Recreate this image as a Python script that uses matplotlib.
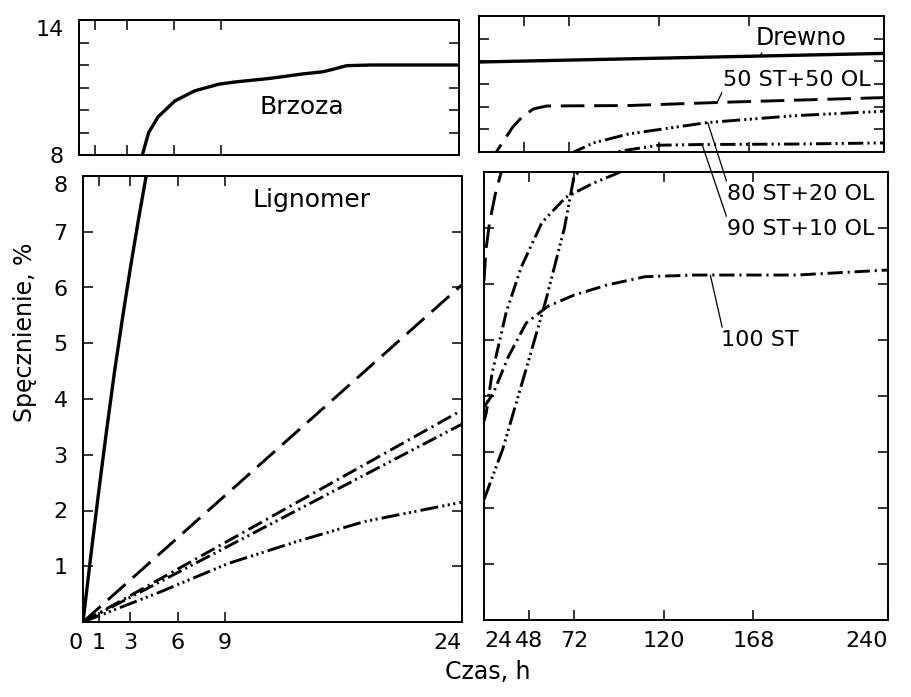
import matplotlib
matplotlib.use("Agg")
import matplotlib.pyplot as plt

# --- data (hours, swelling %) ---
# left panels, 0-24 h
brzoza_h = [0, 0.5, 1.0, 1.5, 2.0, 2.5, 3.0, 3.5, 4.0, 4.4, 5.0, 6.05, 7.3, 8.85, 9.9,
            12.0, 14.1, 15.4, 16.0, 16.9, 18.4, 24]
brzoza_v = [0, 1.2, 2.35, 3.45, 4.5, 5.45, 6.35, 7.2, 8.0, 9.0, 9.7, 10.4, 10.85, 11.15,
            11.25, 11.4, 11.6, 11.7, 11.8, 11.97, 12.0, 12.0]
lig_h = [0, 24]
lig_5050 = [0, 6.05]
lig_100st = [0, 3.8]
lig_9010 = [0, 3.55]
lig_8020_h = [0, 4.9, 9.2, 13.5, 17.8, 24]
lig_8020 = [0, 0.54, 1.05, 1.44, 1.80, 2.15]

# right panels, 24-240 h
drewno_h = [24, 240]
drewno_v = [11.97, 12.35]
mix5050_h = [24, 25, 27, 30, 34, 38, 42, 47, 53, 60, 104, 157, 240]
mix5050_v = [6.05, 6.6, 7.1, 7.6, 8.1, 8.6, 9.1, 9.55, 9.9, 10.03, 10.05, 10.2, 10.4]
mix8020_h = [24, 34, 48, 57, 67, 72, 85, 104, 146, 192, 240]
mix8020_v = [2.15, 3.05, 4.65, 5.7, 7.0, 7.9, 8.4, 8.8, 9.3, 9.6, 9.8]
mix9010_h = [24, 25.2, 28.3, 35.9, 43.9, 55, 67.8, 82.4, 93.3, 104, 120, 143, 192, 240]
mix9010_v = [3.55, 3.7, 4.4, 5.5, 6.3, 7.1, 7.55, 7.8, 7.95, 8.1, 8.3, 8.33, 8.35, 8.4]
st100_h = [24, 29, 37, 46.5, 58, 72, 89.5, 110, 137, 191, 240]
st100_v = [3.8, 4.05, 4.7, 5.3, 5.6, 5.8, 5.98, 6.13, 6.16, 6.16, 6.25]

left_xticks = [0, 1, 3, 6, 9, 24]
right_xticks = [24, 48, 72, 120, 168, 240]

plt.rcParams["lines.scale_dashes"] = False
plt.rcParams["font.family"] = "DejaVu Sans"

W, H = 911, 697
fig = plt.figure(figsize=(W / 100, H / 100), dpi=100)


def rect(x0, y0, x1, y1):
    return [x0 / W, 1 - y1 / H, (x1 - x0) / W, (y1 - y0) / H]


ax_tl = fig.add_axes(rect(79, 20, 459, 155))
ax_bl = fig.add_axes(rect(83, 176, 462, 622))
ax_tr = fig.add_axes(rect(479, 16, 884, 152))
ax_br = fig.add_axes(rect(484, 172, 888, 620))

DASH = (0, (17, 7))
DASH_DOT = (0, (11, 3.5, 1.5, 3.5))
DASH_2DOT = (0, (11, 3, 1.5, 3, 1.5, 3))
DASH_3DOT = (0, (13, 3, 1.5, 2.5, 1.5, 2.5, 1.5, 3))

for ax in (ax_tl, ax_bl, ax_tr, ax_br):
    for s in ax.spines.values():
        s.set_linewidth(1.4)
    ax.tick_params(direction="in", length=7, width=1.1, top=True, right=True,
                   labelsize=16, pad=8)

# left panels
for ax in (ax_tl, ax_bl):
    ax.plot(brzoza_h, brzoza_v, color="black", lw=2.4, solid_capstyle="butt")
    ax.set_xlim(0, 24)
    ax.set_xticks(left_xticks)
ax_bl.plot(lig_h, lig_5050, color="black", lw=2.1, linestyle=DASH)
ax_bl.plot(lig_h, lig_100st, color="black", lw=2.1, linestyle=DASH_DOT)
ax_bl.plot(lig_h, lig_9010, color="black", lw=2.1, linestyle=DASH_2DOT)
ax_bl.plot(lig_8020_h, lig_8020, color="black", lw=2.1, linestyle=DASH_3DOT)

ax_tl.set_ylim(8, 14)
ax_tl.set_yticks(range(8, 15), ["8", "", "", "", "", "", "14"])
ax_tl.get_yticklabels()[-1].set_va("top")
ax_tl.tick_params(axis="y", pad=11)
ax_tl.tick_params(labelbottom=False)

ax_bl.set_ylim(0, 8)
ax_bl.set_yticks(range(1, 9), [str(i) for i in range(1, 9)])
ax_bl.get_yticklabels()[-1].set_va("top")
ax_bl.tick_params(axis="y", pad=11)
ax_bl.set_xticklabels([str(t) for t in left_xticks])
xl = ax_bl.get_xticklabels()
xl[0].set_ha("right")
xl[-1].set_ha("right")

# right panels
for ax in (ax_tr, ax_br):
    ax.plot(drewno_h, drewno_v, color="black", lw=2.4)
    ax.plot(mix5050_h, mix5050_v, color="black", lw=2.1, linestyle=DASH)
    ax.plot(mix8020_h, mix8020_v, color="black", lw=2.1, linestyle=DASH_3DOT)
    ax.plot(mix9010_h, mix9010_v, color="black", lw=2.1, linestyle=DASH_2DOT)
    ax.plot(st100_h, st100_v, color="black", lw=2.1, linestyle=DASH_DOT)
    ax.set_xlim(24, 240)
    ax.set_xticks(right_xticks)
    ax.tick_params(labelleft=False)

ax_tr.set_ylim(8, 14)
ax_tr.set_yticks(range(9, 14))
ax_tr.tick_params(labelbottom=False)
ax_br.set_ylim(0, 8)
ax_br.set_yticks(range(1, 8))
ax_br.set_xticklabels([str(t) for t in right_xticks])
xr = ax_br.get_xticklabels()
xr[0].set_ha("left")
xr[-1].set_ha("right")

# labels inside panels
ax_tl.text(14.1, 10.13, "Brzoza", fontsize=18, ha="center", va="center")
ax_bl.text(14.5, 7.57, "Lignomer", fontsize=18, ha="center", va="center")

lead = dict(arrowstyle="-", color="black", lw=0.9, shrinkA=0, shrinkB=0)
ax_tr.annotate("Drewno", xy=(174, 12.25), xytext=(196, 13.03), fontsize=17,
               ha="center", va="center",
               arrowprops=dict(lead, relpos=(0.08, 0.0)))
ax_tr.annotate("50 ST+50 OL", xy=(151, 10.18), xytext=(193.6, 11.18), fontsize=16,
               ha="center", va="center",
               arrowprops=dict(lead, relpos=(0.0, 0.0)))
ax_br.annotate("80 ST+20 OL", xy=(146, 9.3), xycoords=ax_tr.transData,
               xytext=(193.5, 7.61), textcoords="data", fontsize=16,
               ha="center", va="center",
               arrowprops=dict(lead, relpos=(0.0, 1.0)))
ax_br.annotate("90 ST+10 OL", xy=(143, 8.33), xycoords=ax_tr.transData,
               xytext=(193.5, 6.98), textcoords="data", fontsize=16,
               ha="center", va="center",
               arrowprops=dict(lead, relpos=(0.0, 1.0)))
ax_br.annotate("100 ST", xy=(145, 6.16), xytext=(171.6, 5.0), fontsize=16,
               ha="center", va="center",
               arrowprops=dict(lead, relpos=(0.02, 1.0)))

fig.text(25 / W, 1 - 332 / H, "Spęcznienie, %", rotation=90, fontsize=17,
         ha="center", va="center")
fig.text(488 / W, 1 - 672 / H, "Czas, h", fontsize=17, ha="center", va="center")

fig.savefig("out.png", dpi=100, facecolor="white")
